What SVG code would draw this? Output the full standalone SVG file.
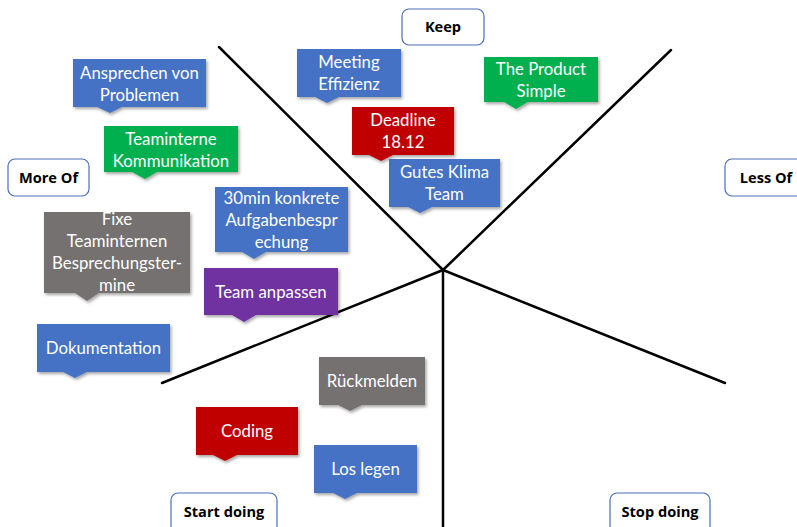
<svg xmlns="http://www.w3.org/2000/svg" width="797" height="527" viewBox="0 0 797 527">
<defs>
<filter id="sh" x="-10%" y="-10%" width="130%" height="140%">
<feDropShadow dx="1.5" dy="2" stdDeviation="1.5" flood-color="#000" flood-opacity="0.35"/>
</filter>
</defs>
<style>
.n text{font-family:Lato,"Open Sans","Liberation Sans",sans-serif;font-size:16.8px;fill:#fff;text-anchor:middle}
.lb rect{fill:#fff;stroke:#4a6fb5;stroke-width:1.2}
.lb text{font-family:"Open Sans","Liberation Sans",sans-serif;font-size:14.6px;font-weight:bold;fill:#000;text-anchor:middle}
.blue{fill:#4472C4}
.green{fill:#00B050}
.red{fill:#C00000}
.gray{fill:#767171}
.purple{fill:#7030A0}
.ln{stroke:#000;stroke-width:2.5;fill:none;stroke-linecap:round}
</style>
<rect width="797" height="527" fill="#fff"/>
<g id="connectors">
<line class="ln" x1="443" y1="270" x2="219" y2="47"/>
<line class="ln" x1="443" y1="270" x2="671" y2="50"/>
<line class="ln" x1="443" y1="270" x2="162" y2="383"/>
<line class="ln" x1="443" y1="270" x2="725" y2="383"/>
<line class="ln" x1="443" y1="270" x2="443" y2="530"/>
</g>
<g id="lbl-keep" class="lb"><rect x="402" y="9" width="82" height="36" rx="7"/><text x="443" y="32">Keep</text></g>
<g id="lbl-more" class="lb"><rect x="8" y="159" width="81" height="37" rx="7"/><text x="48.5" y="183">More Of</text></g>
<g id="lbl-less" class="lb"><rect x="725" y="159" width="90" height="37" rx="7"/><text x="766" y="183">Less Of</text></g>
<g id="lbl-start" class="lb"><rect x="171" y="493" width="106" height="45" rx="7"/><text x="224" y="517">Start doing</text></g>
<g id="lbl-stop" class="lb"><rect x="610" y="493" width="100" height="45" rx="7"/><text x="660" y="517">Stop doing</text></g>

<g id="n-ansprechen" class="n"><path class="blue" filter="url(#sh)" d="M73 59H206V107H122L110 113L97 107H73Z"/><text x="139.5" y="79">Ansprechen von</text><text x="139.5" y="101">Problemen</text></g>
<g id="n-teaminterne" class="n"><path class="green" filter="url(#sh)" d="M104 126H238V172H157L145 179L132 172H104Z"/><text x="171" y="145">Teaminterne</text><text x="171" y="167">Kommunikation</text></g>
<g id="n-meeting" class="n"><path class="blue" filter="url(#sh)" d="M297 49H401V97H339L327 103L315 97H297Z"/><text x="349" y="68">Meeting</text><text x="349" y="90">Effizienz</text></g>
<g id="n-deadline" class="n"><path class="red" filter="url(#sh)" d="M352 107H454V155H393L381 161L369 155H352Z"/><text x="403" y="126">Deadline</text><text x="403" y="148">18.12</text></g>
<g id="n-product" class="n"><path class="green" filter="url(#sh)" d="M484 57H598V102H528L516 109L504 102H484Z"/><text x="541" y="75">The Product</text><text x="541" y="97">Simple</text></g>
<g id="n-klima" class="n"><path class="blue" filter="url(#sh)" d="M389 159H500V207H432L420 213L408 207H389Z"/><text x="444.5" y="178">Gutes Klima</text><text x="444.5" y="200">Team</text></g>
<g id="n-30min" class="n"><path class="blue" filter="url(#sh)" d="M215 187H348V252H266L254 259L242 252H215Z"/><text x="281.5" y="204">30min konkrete</text><text x="281.5" y="226">Aufgabenbespr</text><text x="281.5" y="248">echung</text></g>
<g id="n-fixe" class="n"><path class="gray" filter="url(#sh)" d="M44 212H190V293H99L87 301L75 293H44Z"/><text x="117" y="225">Fixe</text><text x="117" y="247">Teaminternen</text><text x="117" y="269">Besprechungster-</text><text x="117" y="291">mine</text></g>
<g id="n-team" class="n"><path class="purple" filter="url(#sh)" d="M204 268H338V315H256L244 322L232 315H204Z"/><text x="271" y="298">Team anpassen</text></g>
<g id="n-doku" class="n"><path class="blue" filter="url(#sh)" d="M37 324H170V372H87L75 378L63 372H37Z"/><text x="103.5" y="354">Dokumentation</text></g>
<g id="n-rueck" class="n"><path class="gray" filter="url(#sh)" d="M319 357H425V405H362L350 411L338 405H319Z"/><text x="372" y="387">Rückmelden</text></g>
<g id="n-coding" class="n"><path class="red" filter="url(#sh)" d="M196 407H298V455H237L225 461L213 455H196Z"/><text x="247" y="437">Coding</text></g>
<g id="n-los" class="n"><path class="blue" filter="url(#sh)" d="M314 445H417V493H357L345 499L333 493H314Z"/><text x="365.5" y="475">Los legen</text></g>
</svg>
